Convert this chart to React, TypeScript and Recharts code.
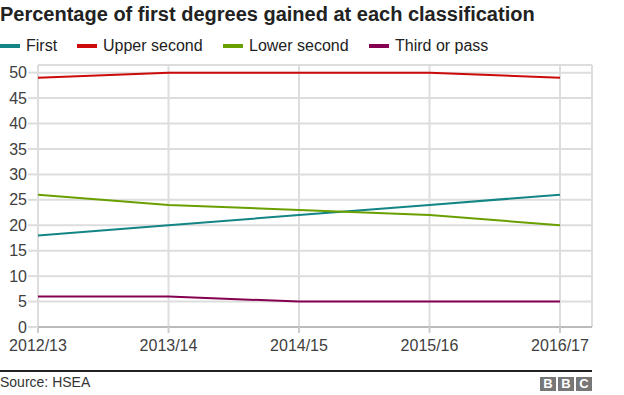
import { LineChart, Line, XAxis, YAxis, CartesianGrid } from "recharts";

const years = ["2012/13", "2013/14", "2014/15", "2015/16", "2016/17"];
const first = [18, 20, 22, 24, 26];
const upperSecond = [49, 50, 50, 50, 49];
const lowerSecond = [26, 24, 23, 22, 20];
const thirdOrPass = [6, 6, 5, 5, 5];
const yTicks = [0, 5, 10, 15, 20, 25, 30, 35, 40, 45, 50];

const SERIES = [
  { key: "first", name: "First", color: "#138585" },
  { key: "upper", name: "Upper second", color: "#cc0a0a" },
  { key: "lower", name: "Lower second", color: "#6a9f00" },
  { key: "third", name: "Third or pass", color: "#850050" },
];

const data = years.map((year, i) => ({
  year,
  first: first[i],
  upper: upperSecond[i],
  lower: lowerSecond[i],
  third: thirdOrPass[i],
}));

const FONT = "'Liberation Sans', Arial, Helvetica, sans-serif";
const legendX = [0, 77, 223, 369];

export default function App() {
  return (
    <div
      style={{
        position: "absolute",
        top: 0,
        left: 0,
        width: 624,
        height: 395,
        background: "#fff",
        fontFamily: FONT,
        color: "#222",
      }}
    >
      <div style={{ position: "absolute", left: 0, top: 3, fontSize: 20, fontWeight: "bold" }}>
        Percentage of first degrees gained at each classification
      </div>
      {SERIES.map((s, i) => (
        <div key={s.key} style={{ position: "absolute", left: legendX[i], top: 37, display: "flex", alignItems: "center", fontSize: 16 }}>
          <span style={{ display: "inline-block", width: 20, height: 4, background: s.color, marginRight: 6 }} />
          <span>{s.name}</span>
        </div>
      ))}

      <div style={{ position: "absolute", left: 0, top: 0 }}>
        <LineChart width={624} height={360} data={data} margin={{ top: 65, right: 32, left: 0, bottom: 0 }}>
          <CartesianGrid stroke="#dddddd" strokeWidth={2} />
          <XAxis
            dataKey="year"
            height={33}
            padding={{ left: 0, right: 32 }}
            axisLine={{ stroke: "#999", strokeWidth: 1 }}
            tickLine={{ stroke: "#cccccc", strokeWidth: 2 }}
            tickSize={6}
            tickMargin={7}
            tick={{ fill: "#404040", fontSize: 16, fontFamily: FONT }}
            interval={0}
          />
          <YAxis
            width={38}
            domain={[0, 51.5]}
            ticks={yTicks}
            interval={0}
            axisLine={false}
            tickLine={{ stroke: "#dddddd", strokeWidth: 2 }}
            tickSize={10}
            tickMargin={1}
            tick={{ fill: "#404040", fontSize: 16, fontFamily: FONT }}
          />
          {SERIES.map((s) => (
            <Line
              key={s.key}
              dataKey={s.key}
              name={s.name}
              stroke={s.color}
              strokeWidth={2}
              dot={false}
              type="linear"
              isAnimationActive={false}
            />
          ))}
        </LineChart>
      </div>

      <div style={{ position: "absolute", left: 0, top: 370, width: 592, height: 2, background: "#222" }} />
      <div style={{ position: "absolute", left: 0, top: 374, fontSize: 14, color: "#333" }}>Source: HSEA</div>
      <div style={{ position: "absolute", left: 540, top: 377, display: "flex", gap: 2 }}>
        {["B", "B", "C"].map((c, i) => (
          <div
            key={i}
            style={{
              width: 16,
              height: 14,
              background: "#777",
              color: "#fff",
              fontWeight: "bold",
              fontSize: 13,
              lineHeight: "14px",
              textAlign: "center",
            }}
          >
            {c}
          </div>
        ))}
      </div>
    </div>
  );
}
